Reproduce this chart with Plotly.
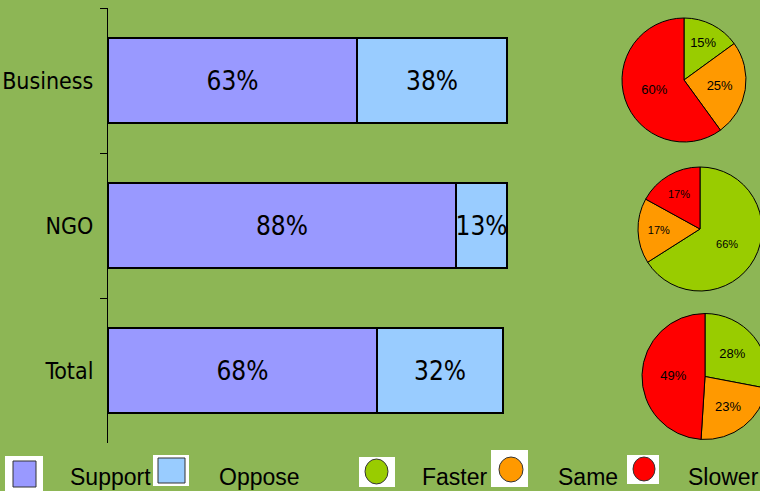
import plotly.graph_objects as go

categories = ["Business", "NGO", "Total"]
support = [63, 88, 68]
oppose = [38, 13, 32]

pie_labels = ["Faster", "Same", "Slower"]
pie_business = [15, 25, 60]
pie_ngo = [66, 17, 17]
pie_total = [28, 23, 49]

legend_labels = ["Support", "Oppose", "Faster", "Same", "Slower"]

BG = "#8DB655"
C_SUP = "#9999FF"
C_OPP = "#99CCFF"
PIE_COLORS = ["#99CC00", "#FF9900", "#FF0000"]

W, H = 775, 491
NARROW = "DejaVu Sans Condensed, Liberation Sans Narrow, sans-serif"
SANS = "Liberation Sans, Arial, sans-serif"


def px(x):
    return x / W


def py(y):
    return 1 - y / H


fig = go.Figure()
for vals, name, col in [(support, "Support", C_SUP), (oppose, "Oppose", C_OPP)]:
    fig.add_trace(go.Bar(
        y=categories, x=vals, orientation="h", name=name,
        marker=dict(color=col, line=dict(color="black", width=2)),
        text=[f"{v}%" for v in vals], textposition="inside", textangle=0,
        insidetextanchor="middle", constraintext="none",
        textfont=dict(family=NARROW, size=26, color="black"),
        showlegend=False, hoverinfo="skip"))

pies = [
    (pie_business, (622, 746), (18, 142), 13),
    (pie_ngo, (638, 762), (167, 291), 11),
    (pie_total, (642, 768), (313, 440), 13),
]
for vals, (x0, x1), (y0, y1), fs in pies:
    fig.add_trace(go.Pie(
        labels=pie_labels, values=vals, sort=False, direction="clockwise",
        rotation=0,
        marker=dict(colors=PIE_COLORS, line=dict(color="black", width=1)),
        texttemplate="%{value}%", textposition="inside",
        insidetextorientation="horizontal",
        textfont=dict(family=SANS, size=fs, color="black"),
        domain=dict(x=[px(x0), px(x1)], y=[py(y1), py(y0)]),
        showlegend=False, hoverinfo="skip"))

shapes = []
annotations = []
boxes = [
    (5, 456, 43, 491), (153, 455, 189, 486), (359, 457, 395, 487),
    (491, 450, 528, 487), (627, 455, 659, 484),
]
inners = [
    ("rect", C_SUP, (13, 461, 36, 487)),
    ("rect", C_OPP, (158, 458, 185, 483)),
    ("circle", PIE_COLORS[0], (365, 459, 388, 484)),
    ("circle", PIE_COLORS[1], (499, 457, 523, 482)),
    ("circle", PIE_COLORS[2], (633, 457, 655, 481)),
]
text_x = [68, 217, 420, 556, 686]
for (bx0, by0, bx1, by1), (kind, col, (ix0, iy0, ix1, iy1)), tx, lab in zip(
        boxes, inners, text_x, legend_labels):
    shapes.append(dict(type="rect", xref="paper", yref="paper",
                       x0=px(bx0), x1=px(bx1), y0=py(by1), y1=py(by0),
                       fillcolor="white", line=dict(width=0), layer="above"))
    shapes.append(dict(type=kind, xref="paper", yref="paper",
                       x0=px(ix0), x1=px(ix1), y0=py(iy1), y1=py(iy0),
                       fillcolor=col, line=dict(color="#333333", width=1),
                       layer="above"))
    annotations.append(dict(text=lab, xref="paper", yref="paper",
                            x=px(tx), y=py(477), xanchor="left",
                            yanchor="middle", showarrow=False,
                            font=dict(family=SANS, size=23, color="black")))

fig.update_layout(
    width=W, height=H, barmode="stack", bargap=0.41,
    paper_bgcolor=BG, plot_bgcolor=BG,
    margin=dict(l=0, r=0, t=0, b=0), autosize=False,
    xaxis=dict(domain=[px(108), px(523)], range=[0, 105], visible=False,
               fixedrange=True),
    yaxis=dict(domain=[py(443), py(8)], range=[2.5, -0.5],
               categoryorder="array", categoryarray=categories,
               tickson="boundaries", ticks="outside", ticklen=7,
               tickcolor="black", showline=True, linecolor="black",
               linewidth=1, showgrid=False, zeroline=False,
               automargin=False, ticklabelstandoff=9,
               tickfont=dict(family=NARROW, size=23, color="black")),
    shapes=shapes, annotations=annotations,
)

fig.write_html("out.html", config={"displayModeBar": False},
               post_script="document.documentElement.style.overflow='hidden';"
                           "document.body.style.overflow='hidden';"
                           "document.body.style.margin='0';"
                           "document.documentElement.style.margin='0';")
